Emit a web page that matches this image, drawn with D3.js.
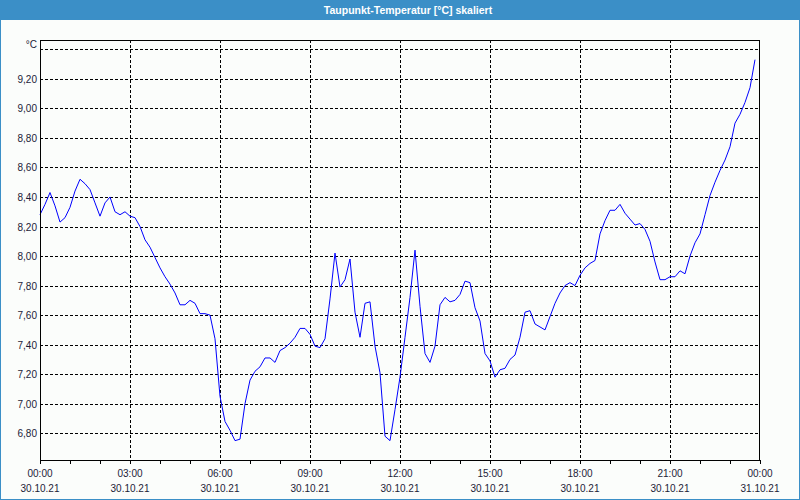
<!DOCTYPE html>
<html><head><meta charset="utf-8">
<script src="https://cdn.jsdelivr.net/npm/d3@7"></script>
<style>html,body{margin:0;padding:0;background:#fff}svg{display:block}</style>
</head><body>
<svg id="c" width="800" height="500"></svg>
<script>
const title = "Taupunkt-Temperatur [°C] skaliert";
const unit = "°C";
const startTime = new Date(2021, 9, 30, 0, 0);
const endTime = new Date(2021, 9, 31, 0, 0);
const stepMinutes = 10;
// dew point values every 10 minutes from 30.10.21 00:00
const values = [
 8.28,8.35,8.43,8.34,8.23,8.26,8.33,8.44,8.52,8.49,8.45,8.36,8.27,8.36,8.40,8.30,
 8.28,8.30,8.27,8.26,8.20,8.11,8.06,7.99,7.92,7.86,7.81,7.75,7.67,7.67,7.70,7.68,
 7.61,7.61,7.60,7.44,7.05,6.88,6.82,6.75,6.76,7.00,7.16,7.22,7.25,7.31,7.31,7.28,
 7.36,7.38,7.41,7.45,7.51,7.51,7.47,7.39,7.38,7.44,7.71,8.02,7.79,7.84,7.98,7.62,
 7.45,7.68,7.69,7.39,7.21,6.78,6.75,6.96,7.18,7.45,7.72,8.04,7.66,7.34,7.28,7.39,
 7.67,7.72,7.69,7.70,7.74,7.83,7.82,7.65,7.56,7.34,7.29,7.18,7.23,7.24,7.30,7.33,
 7.45,7.62,7.63,7.54,7.52,7.50,7.59,7.68,7.75,7.80,7.82,7.80,7.87,7.92,7.95,7.97,
 8.15,8.24,8.31,8.31,8.35,8.29,8.25,8.21,8.22,8.18,8.10,7.96,7.84,7.84,7.86,7.86,
 7.90,7.88,8.00,8.09,8.15,8.28,8.41,8.50,8.58,8.65,8.74,8.90,8.96,9.04,9.14,9.33
];
const yTicks = [6.8,7.0,7.2,7.4,7.6,7.8,8.0,8.2,8.4,8.6,8.8,9.0,9.2,9.4];
const yLabels = ["6,80","7,00","7,20","7,40","7,60","7,80","8,00","8,20","8,40","8,60","8,80","9,00","9,20",""];
const yDomain = [6.619, 9.463];

const svg = d3.select("#c");
const W = 800, H = 500;
const m = {left:40, right:40, top:40, bottom:40};
const font = "'Liberation Sans', Arial, sans-serif";
const txt = "#1c1c38";

svg.append("rect").attr("x",0).attr("y",0).attr("width",W).attr("height",H).attr("fill","#3b8fc7");
svg.append("rect").attr("x",1).attr("y",20).attr("width",W-2).attr("height",H-21).attr("fill","#fbfdfb");
svg.append("text").attr("x",408).attr("y",14).attr("text-anchor","middle")
  .attr("font-family",font).attr("font-size","10.5px").attr("font-weight","bold").attr("fill","#fff").text(title);

const x = d3.scaleTime().domain([startTime,endTime]).range([m.left, W-m.right]);
const y = d3.scaleLinear().domain(yDomain).range([H-m.bottom, m.top]);

const data = values.map((v,i)=>({t:new Date(startTime.getTime()+i*stepMinutes*60000), v}));

const g = svg.append("g");
// horizontal grid
g.selectAll(".hg").data(yTicks).join("line")
  .attr("x1",m.left).attr("x2",W-m.right)
  .attr("y1",d=>Math.round(y(d))+0.5).attr("y2",d=>Math.round(y(d))+0.5)
  .attr("stroke","#000").attr("stroke-dasharray","3,2").attr("stroke-width",1);
// vertical grid every 3 hours
const vTicks = d3.timeHour.every(3).range(startTime, endTime).slice(1);
g.selectAll(".vg").data(vTicks).join("line")
  .attr("x1",d=>Math.round(x(d))+0.5).attr("x2",d=>Math.round(x(d))+0.5)
  .attr("y1",m.top).attr("y2",H-m.bottom)
  .attr("stroke","#000").attr("stroke-dasharray","3,2").attr("stroke-width",1);

// line
const line = d3.line().x(d=>x(d.t)).y(d=>y(d.v));
svg.append("path").datum(data).attr("d",line).attr("fill","none").attr("stroke","#0000ff").attr("stroke-width",1);

// frame
svg.append("rect").attr("x",m.left+0.5).attr("y",m.top+0.5).attr("width",W-m.left-m.right-1).attr("height",H-m.top-m.bottom)
  .attr("fill","none").attr("stroke","#000").attr("stroke-width",1);

// x axis ticks hourly
const hTicks = d3.timeHour.every(1).range(startTime, new Date(endTime.getTime()+1));
svg.selectAll(".xt").data(hTicks).join("line")
  .attr("x1",d=>Math.round(x(d))+0.5).attr("x2",d=>Math.round(x(d))+0.5)
  .attr("y1",H-m.bottom).attr("y2",H-m.bottom+4).attr("stroke","#000");
const labTicks = d3.timeHour.every(3).range(startTime, new Date(endTime.getTime()+1));
const ftime = d3.timeFormat("%H:%M"), fdate = d3.timeFormat("%d.%m.%y");
svg.selectAll(".xl1").data(labTicks).join("text")
  .attr("x",d=>x(d)).attr("y",477).attr("text-anchor","middle")
  .attr("font-family",font).attr("font-size","10px").attr("fill",txt).text(ftime);
svg.selectAll(".xl2").data(labTicks).join("text")
  .attr("x",d=>x(d)).attr("y",492).attr("text-anchor","middle")
  .attr("font-family",font).attr("font-size","10px").attr("fill",txt).text(fdate);

// y labels
svg.selectAll(".yl").data(yTicks).join("text")
  .attr("x",37).attr("y",d=>y(d)+4).attr("text-anchor","end")
  .attr("font-family",font).attr("font-size","10px").attr("fill",txt).text((d,i)=>yLabels[i]);
svg.append("text").attr("x",37).attr("y",48).attr("text-anchor","end")
  .attr("font-family",font).attr("font-size","10px").attr("fill",txt).text(unit);
</script>
</body></html>
